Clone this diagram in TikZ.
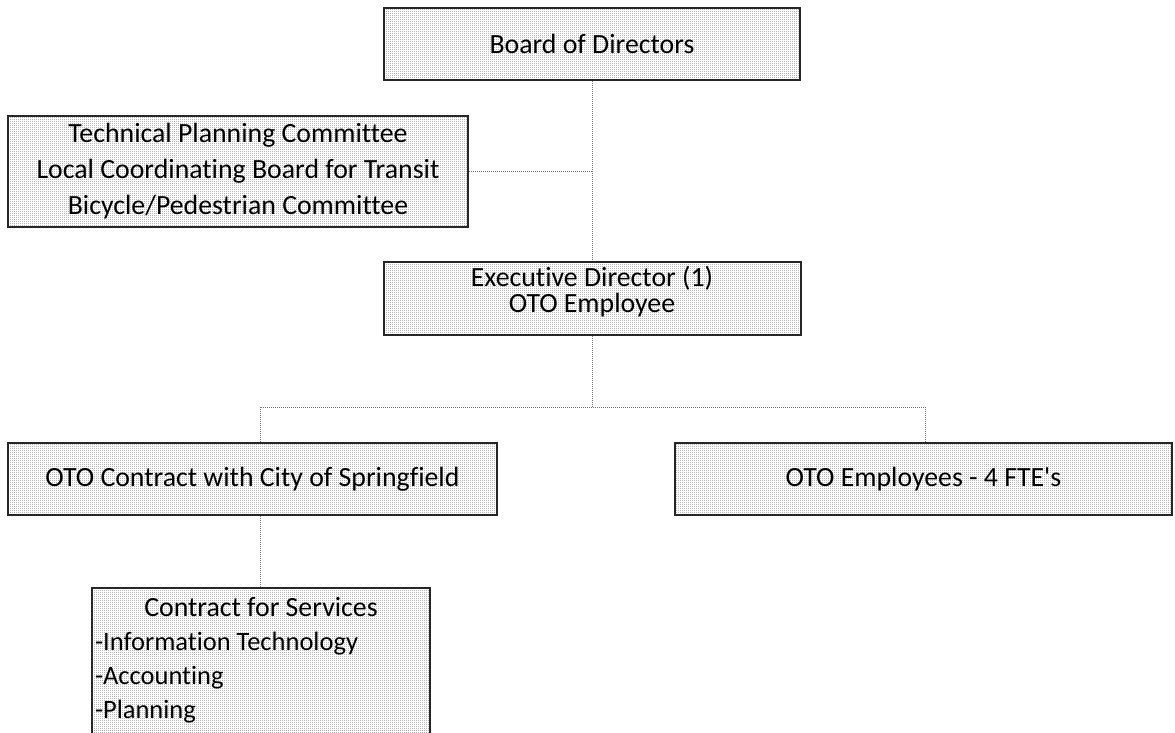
\documentclass[tikz,border=0pt]{standalone}
\usepackage{fontspec}
\setmainfont[Ligatures={NoCommon}]{Carlito}
\usetikzlibrary{patterns.meta}

% fine dot stipple used as the box shading
\tikzdeclarepattern{
  name=stipple,
  type=uncolored,
  bounding box={(0pt,0pt) and (2pt,2pt)},
  tile size={(2pt,2pt)},
  code={\fill (0pt,0pt) rectangle (1pt,1pt);}
}

\tikzset{
  box/.style={draw=black!85, line width=2pt, preaction={fill=white},
    pattern=stipple, pattern color=black!65, inner sep=0pt,
    font=\fontsize{27.8}{36}\selectfont, align=center},
  link/.style={draw=black!55, line width=1pt, dash pattern=on 1pt off 1pt},
}
\newcommand{\listfont}{\fontsize{26.5}{34}\selectfont}

\begin{document}
\begin{tikzpicture}[x=1pt,y=-1pt]
  \useasboundingbox (0,0) rectangle (1175,732);
  \clip (0,0) rectangle (1175,732);

  \node[box, minimum width=416pt, minimum height=72pt] (board) at (592,44) {Board of Directors};
  \node[box, minimum width=460pt, minimum height=111pt] (tech) at (238,171.5)
    {Technical Planning Committee\\Local Coordinating Board for Transit\\Bicycle/Pedestrian Committee};
  \node[box, minimum width=417pt, minimum height=73pt, text depth=19pt,
        font=\fontsize{27.8}{26}\selectfont] (exec) at (592,298.5)
    {Executive Director (1)\\OTO Employee};
  \node[box, minimum width=489pt, minimum height=72pt] (contract) at (252.5,479)
    {OTO Contract with City of Springfield};
  \node[box, minimum width=497pt, minimum height=72pt] (staff) at (923.5,479)
    {OTO Employees - 4 FTE\textquotesingle s};
  % the box runs on past the lower edge of the page
  \node[box, anchor=north, text width=332pt, inner xsep=3pt, inner ysep=9pt,
        text depth=150pt, align=flush left, font=\fontsize{27.8}{34}\selectfont] (svc) at (261,587)
    {\makebox[\linewidth]{Contract for Services}\\
     {\listfont -Information Technology}\\
     {\listfont -Accounting}\\
     {\listfont -Planning}};

  \coordinate (split) at (592,407);
  \coordinate (lj) at (260,407);
  \coordinate (rj) at (925,407);

  \draw[link] (board.south) -- (exec.north);
  \draw[link] (tech.east) -- (tech.east -| board.south);
  \draw[link] (exec.south) -- (split);
  \draw[link] (lj |- contract.north) -- (lj) -- (rj) -- (rj |- staff.north);
  \draw[link] (lj |- contract.south) -- (lj |- svc.north);
\end{tikzpicture}
\end{document}
